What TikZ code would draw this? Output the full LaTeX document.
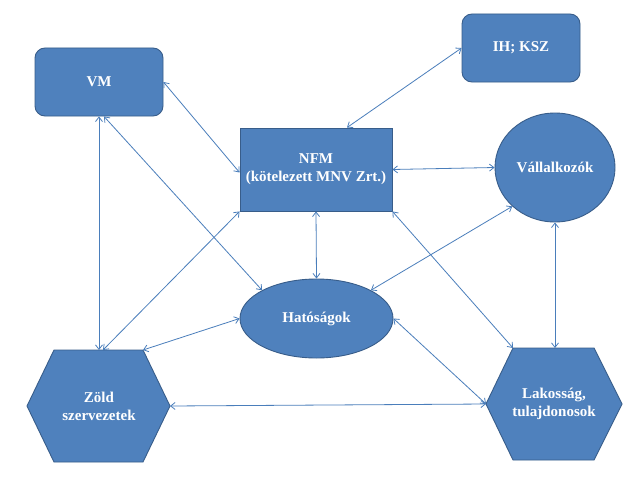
\documentclass[tikz,border=0pt]{standalone}
\usepackage{fontspec}
\setmainfont{Liberation Serif}
\usetikzlibrary{shapes.geometric,arrows.meta}
\definecolor{fillblue}{HTML}{4F81BD}
\definecolor{edgeblue}{HTML}{385D8A}
\definecolor{linkblue}{HTML}{4A7EBB}
\tikzset{
  shapebase/.style={fill=fillblue, draw=edgeblue, line width=0.9pt, text=white,
    font=\fontsize{15}{18}\selectfont\bfseries, align=center, inner sep=0pt},
  rbox/.style={shapebase, rectangle, rounded corners=10pt},
  sqbox/.style={shapebase, rectangle},
  ell/.style={shapebase, ellipse},
  hexlabel/.style={text=white, font=\fontsize{15}{18}\selectfont\bfseries, align=center, inner sep=0pt},
  link/.style={draw=linkblue, line width=0.8pt,
    {Straight Barb[length=4.5pt,width=7pt]}-{Straight Barb[length=4.5pt,width=7pt]}}
}
\begin{document}
\begin{tikzpicture}[x=1pt,y=-1pt]
\useasboundingbox (0,0) rectangle (636,487);
\fill[white] (0,0) rectangle (636,487);

\node[rbox, minimum width=128pt, minimum height=68pt] (vm) at (99,82) {VM};
\node[rbox, minimum width=118pt, minimum height=68pt] (ih) at (521,48) {IH; KSZ};
\node[sqbox, minimum width=152pt, minimum height=83pt] (nfm) at (316,169.5) {NFM\\(kötelezett MNV Zrt.)};
\node[ell, minimum width=120pt, minimum height=109pt] (val) at (555,167.5) {Vállalkozók};
\node[ell, minimum width=153pt, minimum height=79pt] (hat) at (316.5,318.5) {Hatóságok};

% Zöld szervezetek hexagon
\coordinate (zl) at (27,406);
\coordinate (ztl) at (54,350);
\coordinate (ztr) at (143,350);
\coordinate (zr) at (170,406);
\coordinate (zbr) at (143,462);
\coordinate (zbl) at (54,462);
\coordinate (ztop) at (99,350);
\coordinate (ztop2) at (103,350);
\draw[fill=fillblue, draw=edgeblue, line width=0.9pt] (zl) -- (ztl) -- (ztr) -- (zr) -- (zbr) -- (zbl) -- cycle;
\node[hexlabel] (zold) at (99,406) {Zöld\\szervezetek};

% Lakosság hexagon
\coordinate (ll) at (486,404);
\coordinate (ltl) at (513,348);
\coordinate (ltr) at (594,348);
\coordinate (lr) at (622,404);
\coordinate (lbr) at (594,460);
\coordinate (lbl) at (513,460);
\coordinate (ltop) at (555,348);
\draw[fill=fillblue, draw=edgeblue, line width=0.9pt] (ll) -- (ltl) -- (ltr) -- (lr) -- (lbr) -- (lbl) -- cycle;
\node[hexlabel] (lak) at (554,404) {Lakosság,\\tulajdonosok};

% connectors
\draw[link] (vm.east) -- ([yshift=-3pt]nfm.west);
\draw[link] (ih.west) -- ([xshift=31pt]nfm.north);
\draw[link] (nfm.east) -- (val.west);
\draw[link] (nfm.south) -- (hat.north);
\draw[link] (nfm.south west) -- (ztop2);
\draw[link] (vm.south) -- (ztop);
\draw[link] ([xshift=5pt]vm.south) -- (hat.north west);
\draw[link] (hat.west) -- (ztr);
\draw[link] (val.south west) -- (hat.north east);
\draw[link] (nfm.south east) -- (ltl);
\draw[link] (val.south) -- (ltop);
\draw[link] (hat.east) -- (ll);
\draw[link] (zr) -- (ll);
\end{tikzpicture}
\end{document}
